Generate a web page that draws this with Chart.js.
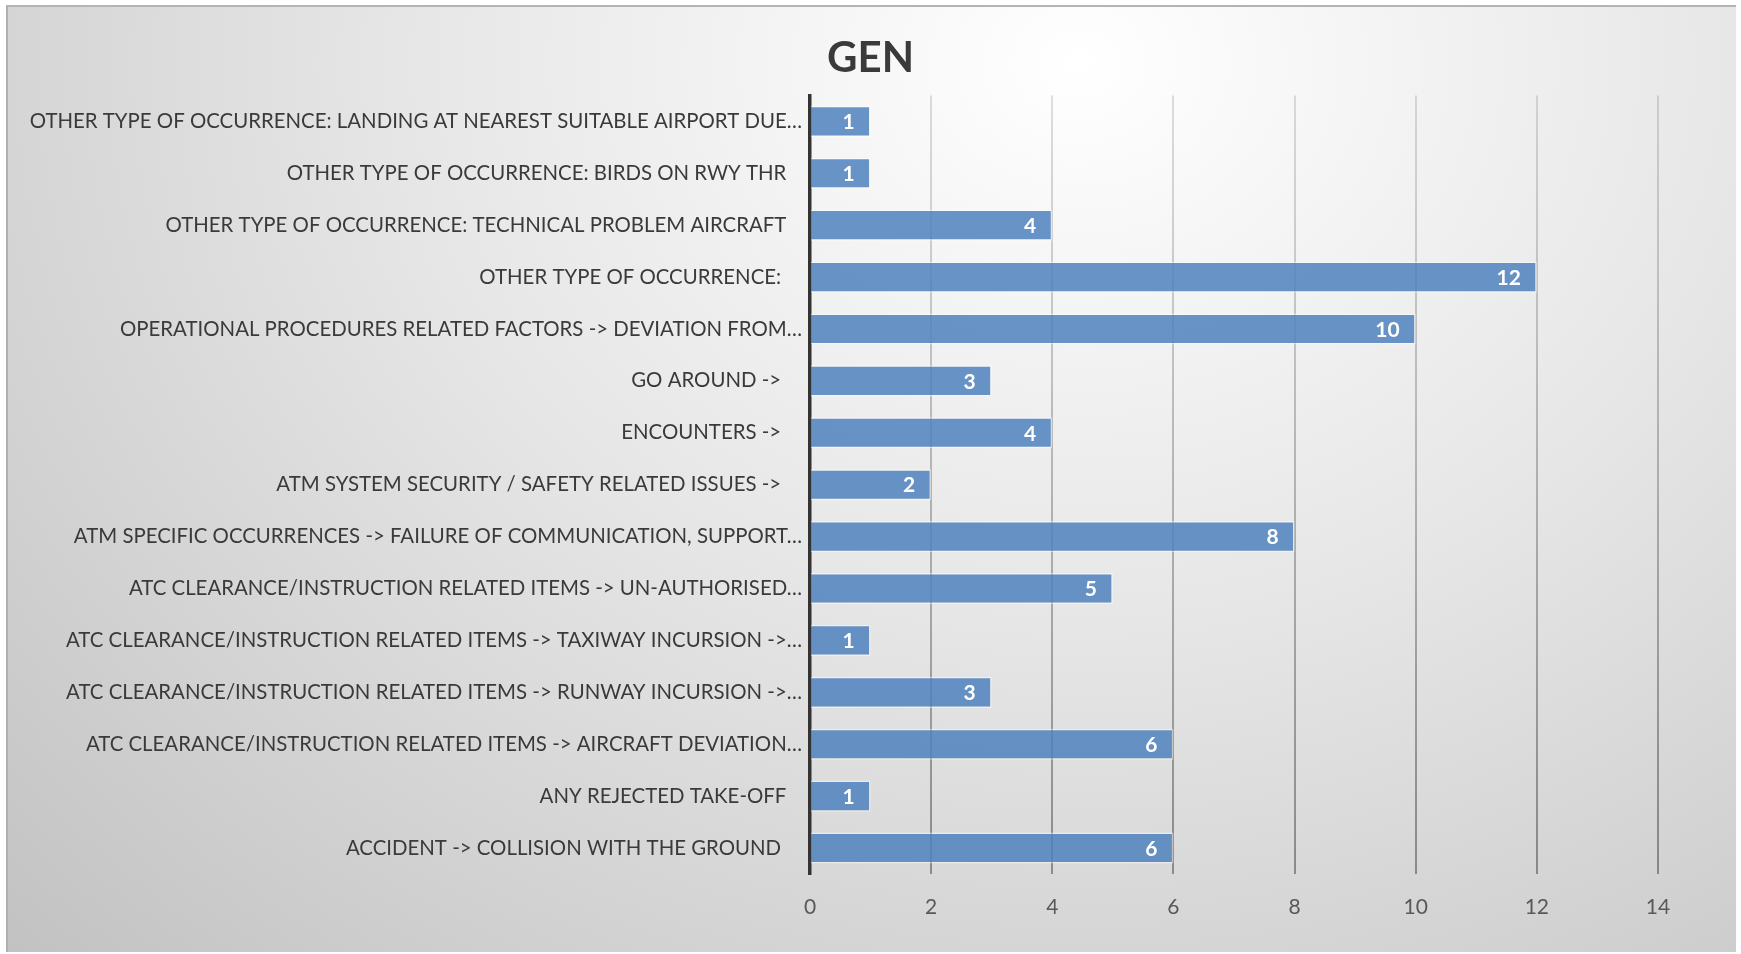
<!DOCTYPE html>
<html>
<head>
<meta charset="utf-8">
<script src="https://cdn.jsdelivr.net/npm/chart.js@4"></script>
<style>
  html, body { margin: 0; padding: 0; background: #ffffff; }
  #frame {
    position: absolute; left: 6px; top: 5px; width: 1730px; height: 947px;
    border-top: 2px solid #b4b4b4; border-left: 2px solid #b0b0b0; box-sizing: border-box;
    background: radial-gradient(ellipse farthest-corner at 62% 6%, #ffffff 0%, #e6e6e6 45%, #c2c2c2 100%);
  }
  #wrap { position: absolute; left: 0; top: 0; width: 1741px; height: 954px; }
</style>
</head>
<body>
<div id="frame"></div>
<div id="wrap"><canvas id="myChart"></canvas></div>
<script>
const categories = [
  'OTHER TYPE OF OCCURRENCE: LANDING AT NEAREST SUITABLE AIRPORT DUE…',
  'OTHER TYPE OF OCCURRENCE: BIRDS ON RWY THR   ',
  'OTHER TYPE OF OCCURRENCE: TECHNICAL PROBLEM AIRCRAFT   ',
  'OTHER TYPE OF OCCURRENCE:    ',
  'OPERATIONAL PROCEDURES RELATED FACTORS -> DEVIATION FROM…',
  'GO AROUND ->    ',
  'ENCOUNTERS ->    ',
  'ATM SYSTEM SECURITY / SAFETY RELATED ISSUES ->    ',
  'ATM SPECIFIC OCCURRENCES -> FAILURE OF COMMUNICATION, SUPPORT…',
  'ATC CLEARANCE/INSTRUCTION RELATED ITEMS -> UN-AUTHORISED…',
  'ATC CLEARANCE/INSTRUCTION RELATED ITEMS -> TAXIWAY INCURSION ->…',
  'ATC CLEARANCE/INSTRUCTION RELATED ITEMS -> RUNWAY INCURSION ->…',
  'ATC CLEARANCE/INSTRUCTION RELATED ITEMS -> AIRCRAFT DEVIATION…',
  'ANY REJECTED TAKE-OFF   ',
  'ACCIDENT -> COLLISION WITH THE GROUND    '
];
const values = [1, 1, 4, 12, 10, 3, 4, 2, 8, 5, 1, 3, 6, 1, 6];
const xTicks = [0, 2, 4, 6, 8, 10, 12, 14];

var ctx = document.getElementById('myChart');

// white numbers at the end of each bar
const valueLabels = {
  id: 'valueLabels',
  afterDatasetsDraw(chart) {
    const c = chart.ctx;
    const meta = chart.getDatasetMeta(0);
    c.save();
    c.font = 'bold 21px Lato';
    c.fillStyle = '#ffffff';
    c.textAlign = 'right';
    c.textBaseline = 'middle';
    meta.data.forEach((bar, i) => {
      c.fillText(values[i], bar.x - 16, bar.y + 1);
    });
    c.restore();
  }
};

// center the title on the whole canvas, like the office chart does
const centerTitle = {
  id: 'centerTitle',
  afterLayout(chart) {
    if (chart.titleBlock) {
      chart.titleBlock.left = 0;
      chart.titleBlock.right = chart.width;
    }
  }
};

function gridColor(context) {
  const chart = context.chart;
  const area = chart.chartArea;
  if (!area) return 'rgba(0,0,0,0.2)';
  const g = chart.ctx.createLinearGradient(0, area.top, 0, area.bottom);
  g.addColorStop(0, 'rgba(0,0,0,0.12)');
  g.addColorStop(1, 'rgba(0,0,0,0.36)');
  return g;
}

var myChart = new Chart(ctx, {
  type: 'bar',
  data: {
    labels: categories,
    datasets: [
      {
        label: 'GEN',
        data: values,
        backgroundColor: 'rgba(79,129,189,0.85)',
        borderColor: 'rgba(255,255,255,0.45)',
        borderWidth: 1.5,
        categoryPercentage: 1,
        barPercentage: 0.6
      }
    ]
  },
  plugins: [valueLabels, centerTitle],
  options: {
    indexAxis: 'y',
    responsive: true,
    maintainAspectRatio: false,
    animation: false,
    layout: {
      padding: { left: 0, right: 83, top: 0, bottom: 0 }
    },
    plugins: {
      title: {
        display: true,
        text: 'GEN',
        color: '#3a3a3a',
        font: { family: 'Lato', size: 42, weight: 'bold' },
        padding: { top: 33, bottom: 12 }
      },
      legend: { display: false },
      tooltip: { enabled: false }
    },
    scales: {
      x: {
        min: 0,
        max: 14,
        afterBuildTicks: (scale) => {
          scale.ticks = xTicks.map(v => ({ value: v }));
        },
        afterFit: (scale) => { scale.height = 80; },
        grid: {
          color: gridColor,
          lineWidth: 2,
          drawTicks: false
        },
        border: { display: false },
        ticks: {
          color: '#595959',
          padding: 21,
          font: { family: 'Lato', size: 21 }
        }
      },
      y: {
        afterFit: (scale) => { scale.width = 810; },
        grid: { display: false, drawTicks: false },
        border: { display: true, color: '#333333', width: 3.5 },
        ticks: {
          color: '#3a3a3a',
          padding: 8,
          autoSkip: false,
          font: { family: 'Lato', size: 20.4 }
        }
      }
    }
  }
});
</script>
</body>
</html>
